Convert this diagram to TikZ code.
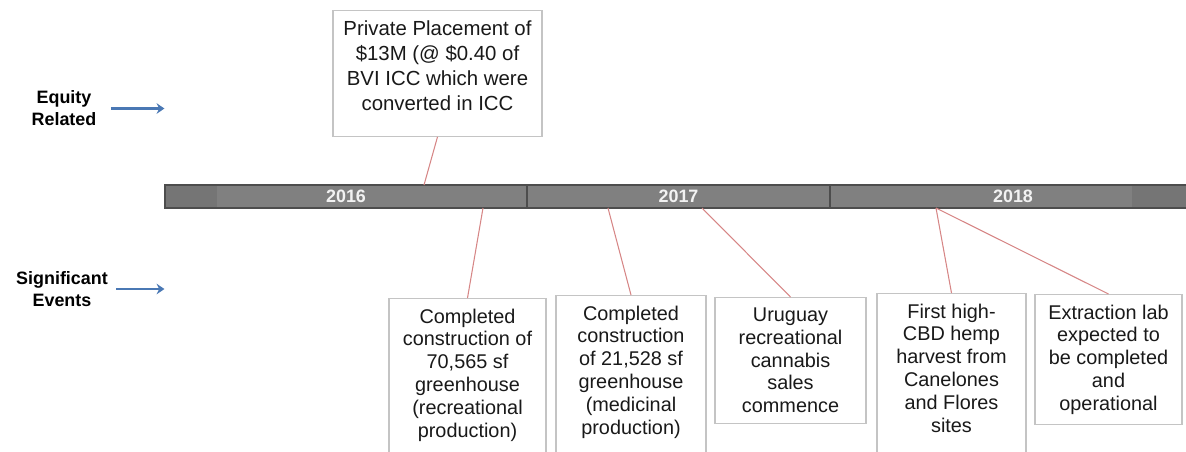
\documentclass[tikz,border=0pt]{standalone}
\usepackage{fontspec}
\setmainfont{Liberation Sans}
\usepackage{xcolor}
\usetikzlibrary{positioning, arrows.meta}

\definecolor{bardark}{HTML}{757575}
\definecolor{barlight}{HTML}{808080}
\definecolor{baredge}{HTML}{4D4D4D}
\definecolor{linkred}{HTML}{D68686}
\definecolor{boxedge}{HTML}{C4C4C4}
\definecolor{arrowblue}{HTML}{4A78B4}
\newcommand{\pxu}{0.02cm}

\begin{document}
\begin{tikzpicture}[
        x=0.02cm, y=-0.02cm, % pixel grid
        evbox/.style={rectangle, draw=boxedge, line width=0.6pt, fill=white, align=center, anchor=north, inner xsep=0pt, inner ysep=5.8pt, text=black!90, font=\fontsize{11.3}{13}\selectfont},
        yearseg/.style={rectangle, draw=baredge, line width=0.6pt, minimum height=23*\pxu, inner sep=0pt, text=white!95!black, font=\bfseries\fontsize{10.2}{12}\selectfont},
        sidelabel/.style={align=center, inner sep=0pt, font=\bfseries\fontsize{10.2}{12.5}\selectfont},
        link/.style={draw=linkred, line width=0.6pt},
        pointer/.style={draw=arrowblue, line width=1.5pt, -{Stealth[length=4.5pt, width=6pt]}}
    ]
    \useasboundingbox (0,0) rectangle (1186,451);
    \clip (0,0) rectangle (1186,451);

    % timeline bar
    \fill[bardark] (165,185) rectangle (1196,208);
    \fill[barlight] (217,186) rectangle (1132,207);
    \node[yearseg, minimum width=362*\pxu] (y16) at (346,196.5) {2016};
    \node[yearseg, minimum width=303*\pxu] (y17) at (678.5,196.5) {2017};
    \node[yearseg, minimum width=366*\pxu] (y18) at (1013,196.5) {2018};

    % row labels
    \node[sidelabel] (eqlbl) at (64,108.5) {Equity\\Related};
    \node[sidelabel] (evlbl) at (62,289) {Significant\\Events};
    \draw[pointer, shorten <=8pt] (eqlbl.east) -- (eqlbl.east -| y16.west);
    \draw[pointer, shorten <=4.5pt] (evlbl.east) -- (evlbl.east -| y16.west);

    % equity event
    \node[evbox, minimum width=209*\pxu, font=\fontsize{11.6}{14.2}\selectfont, text depth=9pt] (eqbox) at (437.5,10) {Private Placement of\\\$13M (@ \$0.40 of\\BVI ICC which were\\converted in ICC};

    % significant events
    \node[evbox, minimum width=157*\pxu, text depth=20pt] (recbox) at (467.5,298) {Completed\\construction of\\70,565 sf\\greenhouse\\(recreational\\production)};
    \node[evbox, minimum width=150*\pxu, text depth=20pt] (medbox) at (631,295) {Completed\\construction\\of 21,528 sf\\greenhouse\\(medicinal\\production)};
    \node[evbox, minimum width=151*\pxu] (salebox) at (790.5,297) {Uruguay\\recreational\\cannabis\\sales\\commence};
    \node[evbox, minimum width=149*\pxu, text depth=20pt] (hempbox) at (951.5,293) {First high-\\CBD hemp\\harvest from\\Canelones\\and Flores\\sites};
    \node[evbox, minimum width=147*\pxu] (labbox) at (1108.5,294) {Extraction lab\\expected to\\be completed\\and\\operational};

    % pins on the bar
    \coordinate (eqpin) at (424,185);
    \coordinate (recpin) at (483,208);
    \coordinate (medpin) at (608,208);
    \coordinate (salepin) at (702,208);
    \coordinate (hemppin) at (936,208);

    \draw[link] (eqbox.south) -- (eqpin);
    \draw[link] (recpin) -- (recbox.north);
    \draw[link] (medpin) -- (medbox.north);
    \draw[link] (salepin) -- (salebox.north);
    \draw[link] (hemppin) -- (hempbox.north);
    \draw[link] (hemppin) -- (labbox.north);
\end{tikzpicture}
\end{document}
